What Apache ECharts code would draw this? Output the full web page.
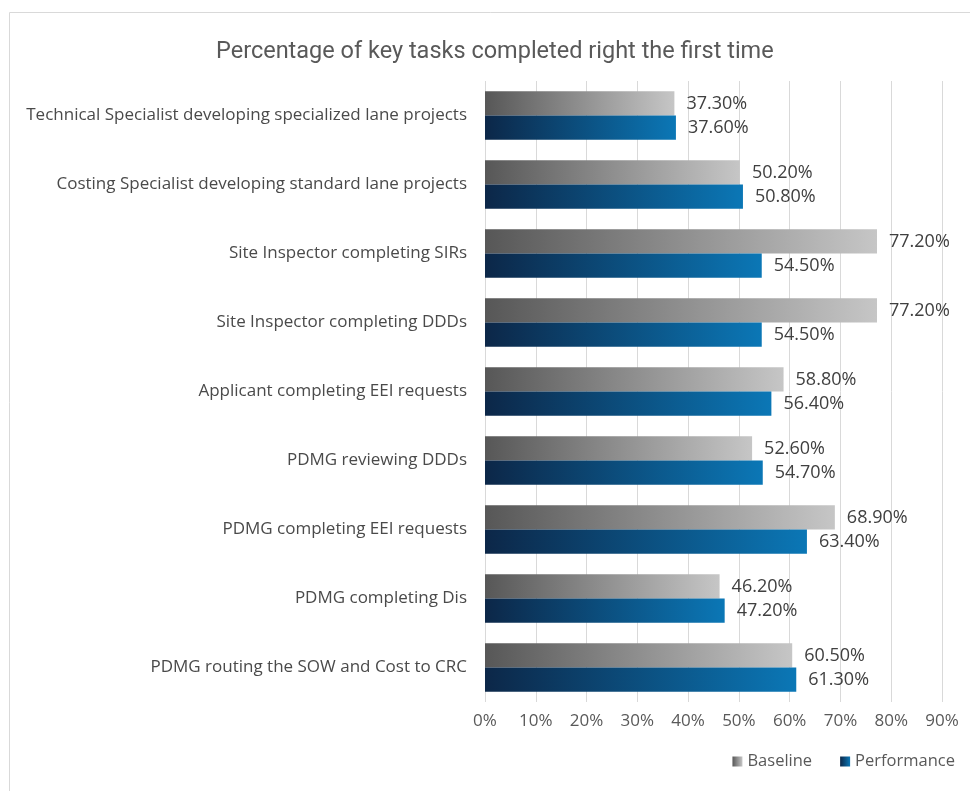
<!DOCTYPE html>
<html>
<head>
<meta charset="utf-8">
<script src="https://cdn.jsdelivr.net/npm/echarts@6/dist/echarts.min.js"></script>
<style>
  html, body { margin: 0; padding: 0; background: #fff; }
  #chart { width: 970px; height: 791px; }
</style>
</head>
<body>
<div id="chart"></div>
<script>
// Task categories, listed top to bottom
const categories = [
  'Technical Specialist developing specialized lane projects',
  'Costing Specialist developing standard lane projects',
  'Site Inspector completing SIRs',
  'Site Inspector completing DDDs',
  'Applicant completing EEI requests',
  'PDMG reviewing DDDs',
  'PDMG completing EEI requests',
  'PDMG completing Dis',
  'PDMG routing the SOW and Cost to CRC'
];
// Share of tasks done right the first time (percent)
const baseline =    [37.3, 50.2, 77.2, 77.2, 58.8, 52.6, 68.9, 46.2, 60.5];
const performance = [37.6, 50.8, 54.5, 54.5, 56.4, 54.7, 63.4, 47.2, 61.3];
const xTicks = [0, 10, 20, 30, 40, 50, 60, 70, 80, 90];

const grad = (a, b) => new echarts.graphic.LinearGradient(0, 0, 1, 0, [
  { offset: 0, color: a }, { offset: 1, color: b }
]);
const baseFill = grad('#575757', '#c6c6c6');
const perfFill = grad('#0c2748', '#0b77b6');

const font = '"Open Sans", Roboto, sans-serif';

const chart = echarts.init(document.getElementById('chart'));
chart.setOption({
  animation: false,
  graphic: [{
    type: 'rect',
    shape: { x: 9.5, y: 12.5, width: 1000, height: 1000 },
    style: { fill: 'none', stroke: '#d9d9d9', lineWidth: 1 }
  }],
  title: {
    text: 'Percentage of key tasks completed right the first time',
    left: 211, top: 35,
    textStyle: { fontFamily: 'Roboto, sans-serif', fontSize: 23.5, fontWeight: 'normal', color: '#595959' }
  },
  legend: {
    right: 10, top: 748,
    itemWidth: 10, itemHeight: 10, itemGap: 28,
    icon: 'rect',
    textStyle: { fontFamily: font, fontSize: 16.5, color: '#595959' },
    data: ['Baseline', 'Performance']
  },
  grid: { left: 485, right: 28, top: 81, bottom: 89 },
  xAxis: {
    type: 'value', min: 0, max: 90, interval: 10,
    axisLine: { show: false }, axisTick: { show: false },
    splitLine: { lineStyle: { color: '#d9d9d9', width: 1 } },
    axisLabel: {
      margin: 11, fontFamily: font, fontSize: 17, color: '#595959',
      formatter: v => xTicks.includes(v) ? v + '%' : ''
    }
  },
  yAxis: {
    type: 'category', data: categories, inverse: true,
    axisLine: { show: false }, axisTick: { show: false },
    axisLabel: { margin: 18, fontFamily: font, fontSize: 17, color: '#4a4a4a' }
  },
  series: [
    {
      name: 'Baseline', type: 'bar', data: baseline,
      barGap: '0%', barCategoryGap: '30%',
      itemStyle: { color: baseFill },
      label: { show: true, position: 'right', distance: 12, fontFamily: font, fontSize: 18, color: '#404040',
        formatter: p => p.value.toFixed(2) + '%' }
    },
    {
      name: 'Performance', type: 'bar', data: performance,
      itemStyle: { color: perfFill },
      label: { show: true, position: 'right', distance: 12, fontFamily: font, fontSize: 18, color: '#404040',
        formatter: p => p.value.toFixed(2) + '%' }
    }
  ]
});
</script>
</body>
</html>
